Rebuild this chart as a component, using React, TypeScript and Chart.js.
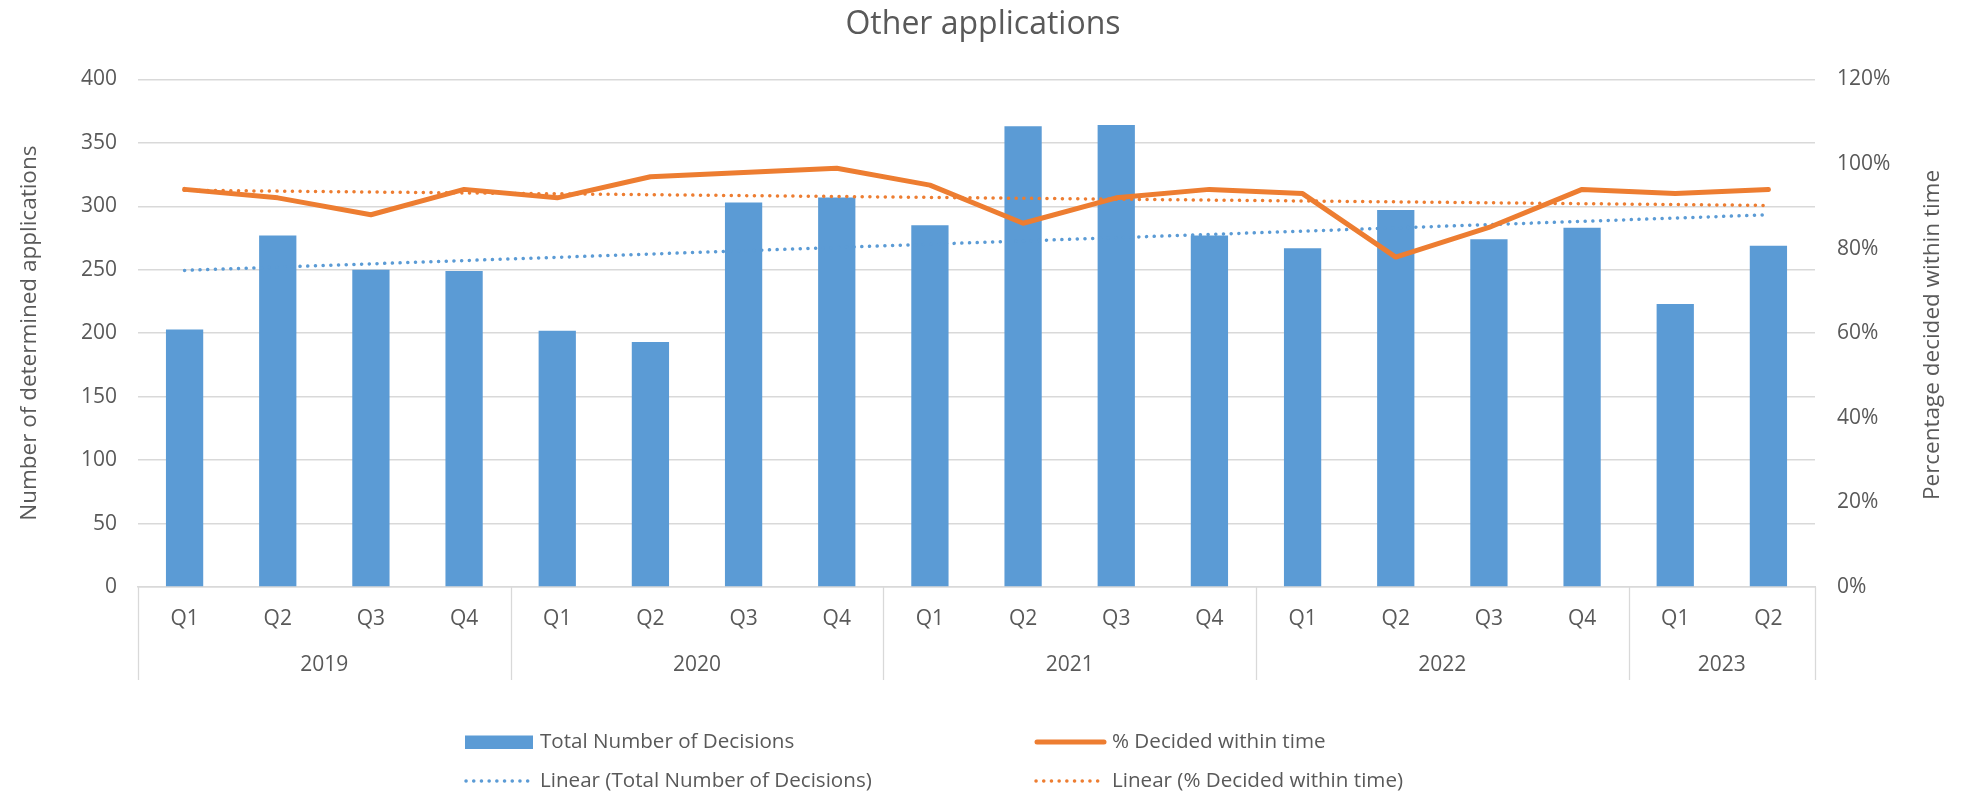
import React, { useEffect, useRef } from 'react';
import { Chart, registerables } from 'chart.js';

Chart.register(...registerables);

const quarters = ['Q1', 'Q2', 'Q3', 'Q4', 'Q1', 'Q2', 'Q3', 'Q4', 'Q1', 'Q2', 'Q3', 'Q4', 'Q1', 'Q2', 'Q3', 'Q4', 'Q1', 'Q2'];
const years = ['2019', '2020', '2021', '2022', '2023'];
const quartersPerYear = [4, 4, 4, 4, 2];
const totalDecisions = [203, 277, 250, 249, 202, 193, 303, 307, 285, 363, 364, 277, 267, 297, 274, 283, 223, 269];
const pctWithinTime = [94, 92, 88, 94, 92, 97, 98, 99, 95, 86, 92, 94, 93, 78, 85, 94, 93, 94];
// trendline end values (first and last quarter)
const trendTotalEnds = [249.5, 293.3];
const trendPctEnds = [93.8, 90.2];

const FONT = "'Open Sans', sans-serif";
const TEXT = '#595959';
const BLUE = '#5B9BD5';
const ORANGE = '#ED7D31';
const GRID = '#D9D9D9';
const DOTS = [0.1, 7.6];

const endsToSeries = (ends: number[]) =>
  quarters.map((_, i) => (i === 0 ? ends[0] : i === quarters.length - 1 ? ends[1] : null));

const extrasPlugin = {
  id: 'extras',
  afterDraw(chart: any) {
    const ctx = chart.ctx;
    const xs = chart.scales.x;
    const area = chart.chartArea;
    ctx.save();
    // group separators and year labels
    ctx.strokeStyle = GRID;
    ctx.lineWidth = 1.3;
    let start = 0;
    const bounds: number[] = [0];
    quartersPerYear.forEach((n) => {
      start += n;
      bounds.push(start);
    });
    bounds.forEach((b) => {
      const px = Math.round(xs.getPixelForValue(b - 0.5)) + 0.5;
      ctx.beginPath();
      ctx.moveTo(px, area.bottom);
      ctx.lineTo(px, 680);
      ctx.stroke();
    });
    ctx.fillStyle = TEXT;
    ctx.font = `21px ${FONT}`;
    ctx.textAlign = 'center';
    ctx.textBaseline = 'middle';
    years.forEach((y, i) => {
      const a = xs.getPixelForValue(bounds[i] - 0.5);
      const b = xs.getPixelForValue(bounds[i + 1] - 0.5);
      ctx.fillText(y, (a + b) / 2, 665);
    });

    // right axis title (reads bottom to top)
    ctx.save();
    ctx.translate(1933, 335);
    ctx.rotate(-Math.PI / 2);
    ctx.font = `22.5px ${FONT}`;
    ctx.fillText('Percentage decided within time', 0, 0);
    ctx.restore();

    // legend
    const r1 = 742;
    const r2 = 781;
    ctx.textAlign = 'left';
    ctx.font = `20.6px ${FONT}`;
    ctx.fillStyle = BLUE;
    ctx.fillRect(465, 735.5, 68, 13.5);
    ctx.fillStyle = TEXT;
    ctx.fillText(chart.data.datasets[3].label, 540, r1);

    ctx.strokeStyle = ORANGE;
    ctx.lineWidth = 5;
    ctx.lineCap = 'round';
    ctx.beginPath();
    ctx.moveTo(1037, r1);
    ctx.lineTo(1104, r1);
    ctx.stroke();
    ctx.fillText(chart.data.datasets[0].label, 1112, r1);

    ctx.lineWidth = 3.5;
    ctx.setLineDash(DOTS);
    ctx.strokeStyle = BLUE;
    ctx.beginPath();
    ctx.moveTo(466, r2);
    ctx.lineTo(532, r2);
    ctx.stroke();
    ctx.fillText(chart.data.datasets[1].label, 540, r2);

    ctx.strokeStyle = ORANGE;
    ctx.beginPath();
    ctx.moveTo(1036, r2);
    ctx.lineTo(1104, r2);
    ctx.stroke();
    ctx.fillText(chart.data.datasets[2].label, 1112, r2);
    ctx.restore();
  },
};

export default function App() {
  const ref = useRef<HTMLCanvasElement | null>(null);

  useEffect(() => {
    document.body.style.margin = '0';
    if (!ref.current) return;
    const tickFont = { family: FONT, size: 21 };
    const chart = new Chart(ref.current, {
      type: 'bar',
      data: {
        labels: quarters,
        datasets: [
          {
            type: 'line',
            label: '% Decided within time',
            data: pctWithinTime,
            yAxisID: 'y1',
            borderColor: ORANGE,
            backgroundColor: ORANGE,
            borderWidth: 5,
            pointRadius: 0,
            tension: 0,
            borderJoinStyle: 'round',
            borderCapStyle: 'round',
            order: 1,
          },
          {
            type: 'line',
            label: 'Linear (Total Number of Decisions)',
            data: endsToSeries(trendTotalEnds),
            yAxisID: 'y',
            borderColor: BLUE,
            borderWidth: 3.5,
            borderDash: DOTS,
            borderCapStyle: 'round',
            pointRadius: 0,
            spanGaps: true,
            order: 2,
          },
          {
            type: 'line',
            label: 'Linear (% Decided within time)',
            data: endsToSeries(trendPctEnds),
            yAxisID: 'y1',
            borderColor: ORANGE,
            borderWidth: 3.5,
            borderDash: DOTS,
            borderCapStyle: 'round',
            pointRadius: 0,
            spanGaps: true,
            order: 3,
          },
          {
            type: 'bar',
            label: 'Total Number of Decisions',
            data: totalDecisions,
            yAxisID: 'y',
            backgroundColor: BLUE,
            barPercentage: 0.4,
            categoryPercentage: 1,
            order: 4,
          },
        ],
      } as any,
      options: {
        animation: false,
        responsive: true,
        maintainAspectRatio: false,
        layout: { padding: 0 },
        plugins: {
          legend: { display: false },
          tooltip: { enabled: false },
          title: {
            display: true,
            text: 'Other applications',
            color: TEXT,
            font: { family: FONT, size: 32, weight: 'normal' },
            padding: { top: 6, bottom: 35 },
          },
        },
        scales: {
          x: {
            grid: { display: false, drawTicks: false },
            border: { display: true, color: GRID, width: 1.5 },
            ticks: { color: TEXT, font: tickFont, padding: 19, maxRotation: 0, autoSkip: false },
            afterFit: (s: any) => {
              s.height = 208;
            },
          },
          y: {
            position: 'left',
            min: 0,
            max: 400,
            ticks: { stepSize: 50, color: TEXT, font: tickFont, padding: 21 },
            grid: { color: GRID, lineWidth: 1.5, drawTicks: false },
            border: { display: false },
            title: {
              display: true,
              text: 'Number of determined applications',
              color: TEXT,
              font: { family: FONT, size: 22.5 },
              padding: { top: 16.5, bottom: 0 },
            },
            afterFit: (s: any) => {
              s.width = 138;
            },
          },
          y1: {
            position: 'right',
            min: 0,
            max: 120,
            ticks: { stepSize: 20, color: TEXT, font: tickFont, padding: 22, callback: (v: any) => v + '%' },
            grid: { display: false, drawTicks: false },
            border: { display: false },
            afterFit: (s: any) => {
              s.width = 151;
            },
          },
        },
      } as any,
      plugins: [extrasPlugin],
    });
    return () => chart.destroy();
  }, []);

  return (
    <div style={{ width: 1966, height: 795, position: 'relative' }}>
      <canvas ref={ref} />
    </div>
  );
}
